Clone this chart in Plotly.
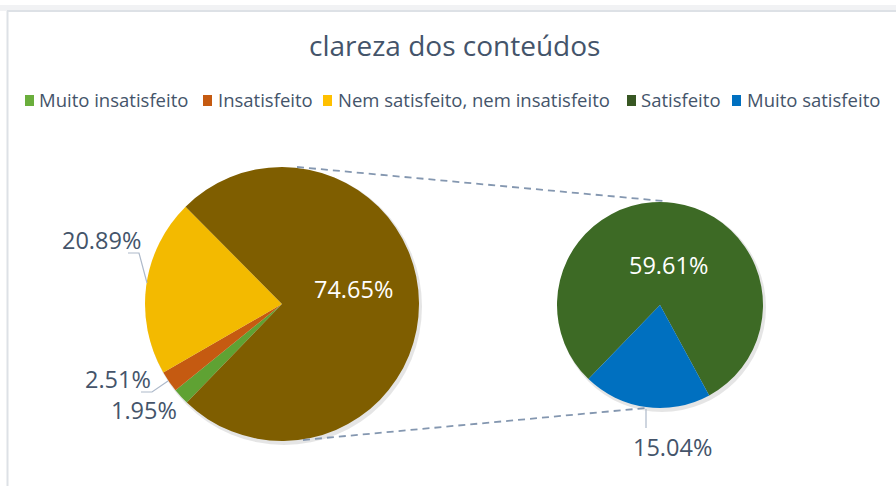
import plotly.graph_objects as go

W, H = 896, 486

title_text = "clareza dos conteúdos"
main_labels = ["Muito insatisfeito", "Insatisfeito", "Nem satisfeito, nem insatisfeito", "Outros"]
main_values = [1.95, 2.51, 20.89, 74.65]
sec_labels = ["Satisfeito", "Muito satisfeito"]
sec_values = [59.61, 15.04]
legend_labels = ["Muito insatisfeito", "Insatisfeito", "Nem satisfeito, nem insatisfeito",
                 "Satisfeito", "Muito satisfeito"]

main_colors = ["#5FA233", "#C55A11", "#F3BA00", "#7F5E00"]
sec_colors = ["#3D6A25", "#0070C0"]
legend_colors = ["#6AAE3C", "#C55A11", "#FFC000", "#385723", "#0070C0"]

TXT = "#44546A"
FONT = "Open Sans"


def px(x):
    return x / W


def py(y):
    return 1 - y / H


fig = go.Figure()

# main pie: centre (282,304) r=137
fig.add_trace(go.Pie(
    labels=main_labels, values=main_values, sort=False, direction="clockwise",
    rotation=224, textinfo="none", hoverinfo="label+percent",
    marker=dict(colors=main_colors, line=dict(width=0)),
    domain=dict(x=[px(145), px(419)], y=[py(441), py(167)]),
    showlegend=False,
))
# secondary pie: centre (660,305) r=103
fig.add_trace(go.Pie(
    labels=sec_labels, values=sec_values, sort=False, direction="clockwise",
    rotation=224, textinfo="none", hoverinfo="label+value",
    marker=dict(colors=sec_colors, line=dict(width=0)),
    domain=dict(x=[px(557), px(763)], y=[py(408), py(202)]),
    showlegend=False,
))

shapes = []
# page top shadow and card border
shapes.append(dict(type="rect", xref="paper", yref="paper", x0=0, x1=1, y0=py(11), y1=py(5),
                   fillcolor="#F1F2F4", line=dict(width=0), layer="below"))
shapes.append(dict(type="line", xref="paper", yref="paper", x0=px(7), x1=1, y0=py(11), y1=py(11),
                   line=dict(color="#DDE1E6", width=2), layer="below"))
shapes.append(dict(type="line", xref="paper", yref="paper", x0=px(7.5), x1=px(7.5), y0=0, y1=py(11),
                   line=dict(color="#DDE1E6", width=2), layer="below"))
# soft shadows behind pies
for (cx, cy, r) in [(282, 304, 137), (660, 305, 103)]:
    shapes.append(dict(type="circle", xref="paper", yref="paper",
                       x0=px(cx - r + 1), x1=px(cx + r + 3), y0=py(cy + r + 4), y1=py(cy - r + 1),
                       fillcolor="rgba(0,0,0,0.10)", line=dict(width=0), layer="below"))
# connector dashed lines
shapes.append(dict(type="line", xref="paper", yref="paper", x0=px(297), y0=py(167), x1=px(663), y1=py(201),
                   line=dict(color="#8497B0", width=1.8, dash="7px,5px")))
shapes.append(dict(type="line", xref="paper", yref="paper", x0=px(303), y0=py(440), x1=px(646), y1=py(408),
                   line=dict(color="#8497B0", width=1.8, dash="7px,5px")))
# leader lines
for pts in [[(128, 253), (139, 253), (147, 283)],
            [(141, 392), (152, 392), (168, 381)],
            [(646, 409), (646, 428)]]:
    path = "M " + " L ".join(f"{px(x)},{py(y)}" for x, y in pts)
    shapes.append(dict(type="path", xref="paper", yref="paper", path=path,
                       line=dict(color="#ADB9CA", width=1.2)))

# legend squares
sq_x = [25, 203, 323, 627, 732]
txt_x = [37, 216, 336, 639, 745]
for i, lab in enumerate(legend_labels):
    shapes.append(dict(type="rect", xref="paper", yref="paper", x0=px(sq_x[i]), x1=px(sq_x[i] + 9),
                       y0=py(106), y1=py(95), fillcolor=legend_colors[i], line=dict(width=0)))

annotations = []
annotations.append(dict(text=title_text, x=px(454), y=py(45), xref="paper", yref="paper",
                        xanchor="center", yanchor="middle", showarrow=False,
                        font=dict(family=FONT, size=28, color=TXT)))
for i, lab in enumerate(legend_labels):
    annotations.append(dict(text=lab, x=px(txt_x[i]), y=py(100), xref="paper", yref="paper",
                            xanchor="left", yanchor="middle", showarrow=False,
                            font=dict(family=FONT, size=18.5, color=TXT)))


def pct(v, total):
    return f"{100 * v / total:.2f}%"


tot = sum(main_values)
lab_pos_main = [(144, 410), (118, 379), (101, 240), (353, 289)]
for i, v in enumerate(main_values):
    annotations.append(dict(text=pct(v, tot), x=px(lab_pos_main[i][0]), y=py(lab_pos_main[i][1]),
                            xref="paper", yref="paper", xanchor="center", yanchor="middle",
                            showarrow=False,
                            font=dict(family=FONT, size=23.5, color="white" if i == 3 else TXT)))
lab_pos_sec = [(668, 265), (672, 447)]
for i, v in enumerate(sec_values):
    annotations.append(dict(text=pct(v, tot), x=px(lab_pos_sec[i][0]), y=py(lab_pos_sec[i][1]),
                            xref="paper", yref="paper", xanchor="center", yanchor="middle",
                            showarrow=False,
                            font=dict(family=FONT, size=23.5, color="white" if i == 0 else TXT)))

fig.update_layout(
    width=W, height=H, margin=dict(l=0, r=0, t=0, b=0),
    paper_bgcolor="white", plot_bgcolor="white",
    shapes=shapes, annotations=annotations, showlegend=False,
)

fig.write_html("out.html", config={"displayModeBar": False},
               post_script="document.body.style.margin='0';document.body.style.overflow='hidden';")
